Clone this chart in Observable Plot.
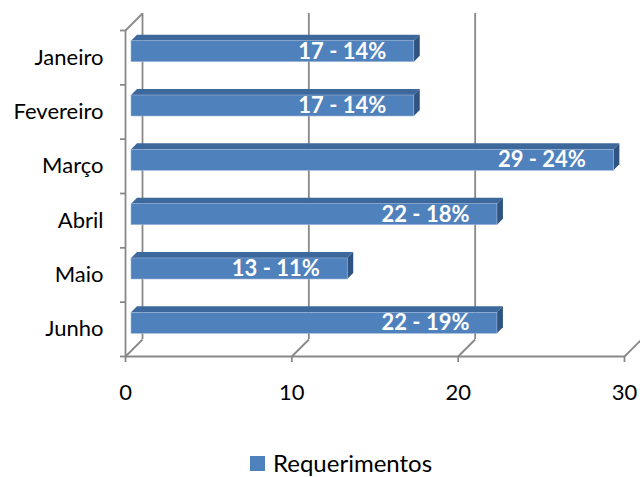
<!DOCTYPE html>
<html>
<head>
<meta charset="utf-8">
<script src="https://cdn.jsdelivr.net/npm/d3@7"></script>
<script src="https://cdn.jsdelivr.net/npm/@observablehq/plot@0.6"></script>
<style>
  html, body { margin: 0; padding: 0; background: #fff; }
  #chart svg { display: block; }
  #legend { height: 26px; padding-top: 10px; display: flex; align-items: center; padding-left: 250px;
            font-family: Lato, "Open Sans", sans-serif; font-size: 24px; line-height: 26px; color: #000; }
  #legend .sw { width: 15px; height: 15px; background: #4f81bd; margin-right: 8px; }
</style>
</head>
<body>
<div id="chart"></div>
<div id="legend"></div>
<script>
const months = ["Janeiro", "Fevereiro", "Março", "Abril", "Maio", "Junho"];
const values = [17, 17, 29, 22, 13, 22];
const labels = ["17 - 14%", "17 - 14%", "29 - 24%", "22 - 18%", "13 - 11%", "22 - 19%"];
const xTicks = [0, 10, 20, 30];
const seriesName = "Requerimentos";

// layout
const W = 640, H = 440, mL = 125, mR = 16, mT = 30, mB = 84;
const xMax = 30;
const pxX = (W - mL - mR) / xMax;          // px per x unit
const pxY = (H - mT - mB) / months.length;  // px per category
const wall = 17;   // 3D depth of back wall (px)
const off = 6;     // bar depth offset (px)
const barH = 21 / pxY; // bar thickness in category units
const dX = off / pxX, dY = off / pxY;

const rows = months.map((m, i) => ({i, m, v: values[i], label: labels[i]}));

const topFace = rows.flatMap(d => [
  {i: d.i, y: d.i - barH / 2, x1: 0, x2: d.v},
  {i: d.i, y: d.i - barH / 2 - dY, x1: dX, x2: d.v + dX}
]);
const sideFace = rows.flatMap(d => [
  {i: d.i, x: d.v, y1: d.i - barH / 2, y2: d.i + barH / 2},
  {i: d.i, x: d.v + dX, y1: d.i - barH / 2 - dY, y2: d.i + barH / 2 - dY}
]);
const bottom = months.length - 0.5, topEdge = -0.5;
const floorLinks = xTicks.map(t => ({x1: t, y1: bottom, x2: t + wall / pxX, y2: bottom - wall / pxY}));
floorLinks.push({x1: 0, y1: topEdge, x2: wall / pxX, y2: topEdge - wall / pxY});

const grid = "#888888";

const chart = Plot.plot({
  width: W, height: H,
  marginLeft: mL, marginRight: mR, marginTop: mT, marginBottom: mB,
  x: {domain: [0, xMax]},
  y: {domain: [topEdge, bottom], reverse: true},
  style: {fontFamily: "Lato, 'Open Sans', sans-serif", color: "#000", background: "#fff", overflow: "visible"},
  marks: [
    // back wall gridlines
    Plot.ruleX(xTicks, {dx: wall, dy: -wall, stroke: grid, strokeWidth: 1.8}),
    // floor / wall diagonals
    Plot.link(floorLinks, {x1: "x1", y1: "y1", x2: "x2", y2: "y2", stroke: grid, strokeWidth: 1.8}),
    // front axis lines
    Plot.ruleX([0], {stroke: grid, strokeWidth: 1.8}),
    Plot.ruleY([bottom], {stroke: grid, strokeWidth: 1.8}),
    // bars: top face, side face, front face
    Plot.areaX(topFace, {y: "y", x1: "x1", x2: "x2", z: "i", fill: "#3d689c", dx: off, dy: -off, curve: "linear"}),
    Plot.areaY(sideFace, {x: "x", y1: "y1", y2: "y2", z: "i", fill: "#2f5481", dx: off, dy: -off, curve: "linear"}),
    Plot.rectX(rows, {x1: 0, x2: "v", y1: d => d.i - barH / 2, y2: d => d.i + barH / 2,
                      fill: "#4f81bd", stroke: "#9db6d8", strokeWidth: 0.6, dx: off, dy: -off}),
    // labels
    Plot.text(rows, {x: "v", y: "i", text: "label", textAnchor: "end", dx: off - 28, dy: -off,
                     fill: "white", fontWeight: "bold", fontSize: 22}),
    // axes
    Plot.axisX(xTicks, {tickSize: 6, tickPadding: 22, stroke: grid, strokeWidth: 1.8, fontSize: 22, label: null}),
    Plot.axisY(d3.range(months.length + 1).map(k => k - 0.5), {tickSize: 5, stroke: grid, strokeWidth: 1.8, tickFormat: () => "", label: null}),
    Plot.axisY(d3.range(months.length), {tickSize: 0, tickPadding: 22, tickFormat: k => months[k], fontSize: 22, label: null})
  ]
});
document.getElementById("chart").append(chart);

const lg = document.getElementById("legend");
lg.innerHTML = `<div class="sw"></div><span>${seriesName}</span>`;
</script>
</body>
</html>
